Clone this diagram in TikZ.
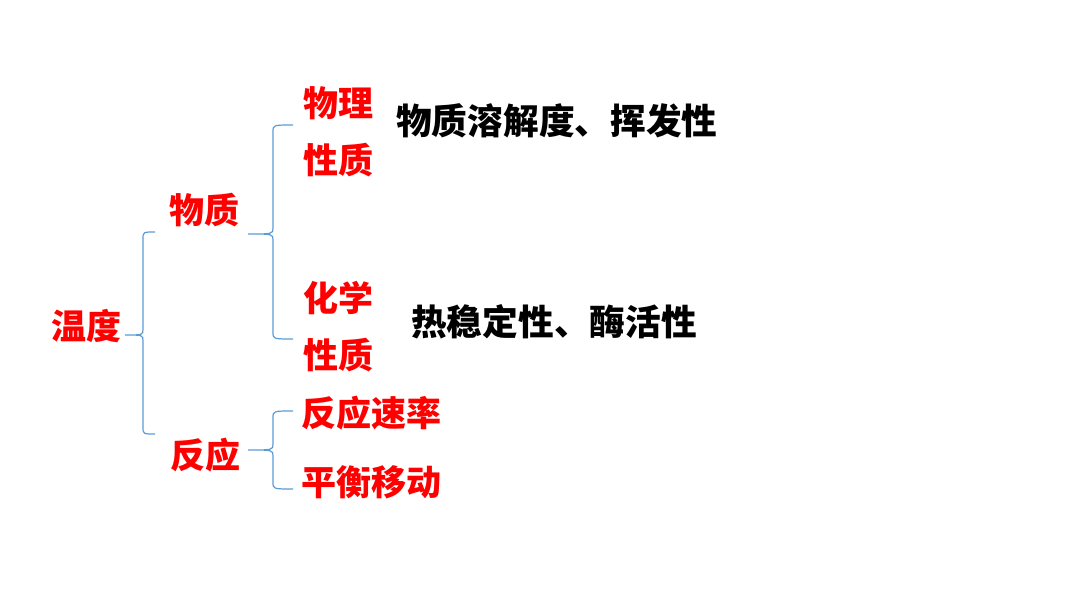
\documentclass[tikz,border=0pt]{standalone}
\usepackage{fontspec}
\usepackage{xcolor}
\usepackage{tikz}
\newfontfamily\cjk{Noto Sans CJK SC}
\definecolor{bracecol}{HTML}{5B9BD5}
\definecolor{keyred}{HTML}{FF0000}
\tikzset{
	redword/.style={text=keyred,font=\cjk\bfseries\fontsize{35}{40}\selectfont,inner sep=0pt,anchor=west},
	blackword/.style={text=black,font=\cjk\bfseries\fontsize{35.7}{40}\selectfont,inner sep=0pt,anchor=west},
	bracket/.style={draw=bracecol,line width=1.2pt}
}
% left brace: vertical x, tip x, cusp x, top y, middle y, bottom y
\newcommand{\leftbrace}[6]{%
	\draw[bracket] (#2,#4) .. controls (#1,#4) .. (#1,#4+7) -- (#1,#5-6)
		.. controls (#1,#5) .. (#3,#5) .. controls (#1,#5) .. (#1,#5+6)
		-- (#1,#6-7) .. controls (#1,#6) .. (#2,#6);}

\begin{document}
\begin{tikzpicture}[x=1pt,y=-1pt]
				\useasboundingbox (0,0) rectangle (1080,608);
				% braces
				\leftbrace{143}{155}{125}{232}{335}{434}
				\leftbrace{273}{293}{248}{125}{234}{339}
				\leftbrace{273}{293}{248}{411}{450}{489}
				% red words
				\node[redword] (wendu) at (51,326) {温度};
				\node[redword] (wuzhi) at (169,210) {物质};
				\node[redword] (fanying) at (170,455) {反应};
				\node[redword] (wuli) at (303,103) {物理};
				\node[redword] (wulixz) at (303,160) {性质};
				\node[redword] (huaxue) at (303,298) {化学};
				\node[redword] (huaxuexz) at (303,355) {性质};
				\node[redword] (sulv) at (301,413) {反应速率};
				\node[redword] (pingheng) at (301,482) {平衡移动};
				% black words
				\node[blackword] (rongjie) at (396,121) {物质溶解度、挥发性};
				\node[blackword] (wending) at (411,322) {热稳定性、酶活性};
\end{tikzpicture}
\end{document}
